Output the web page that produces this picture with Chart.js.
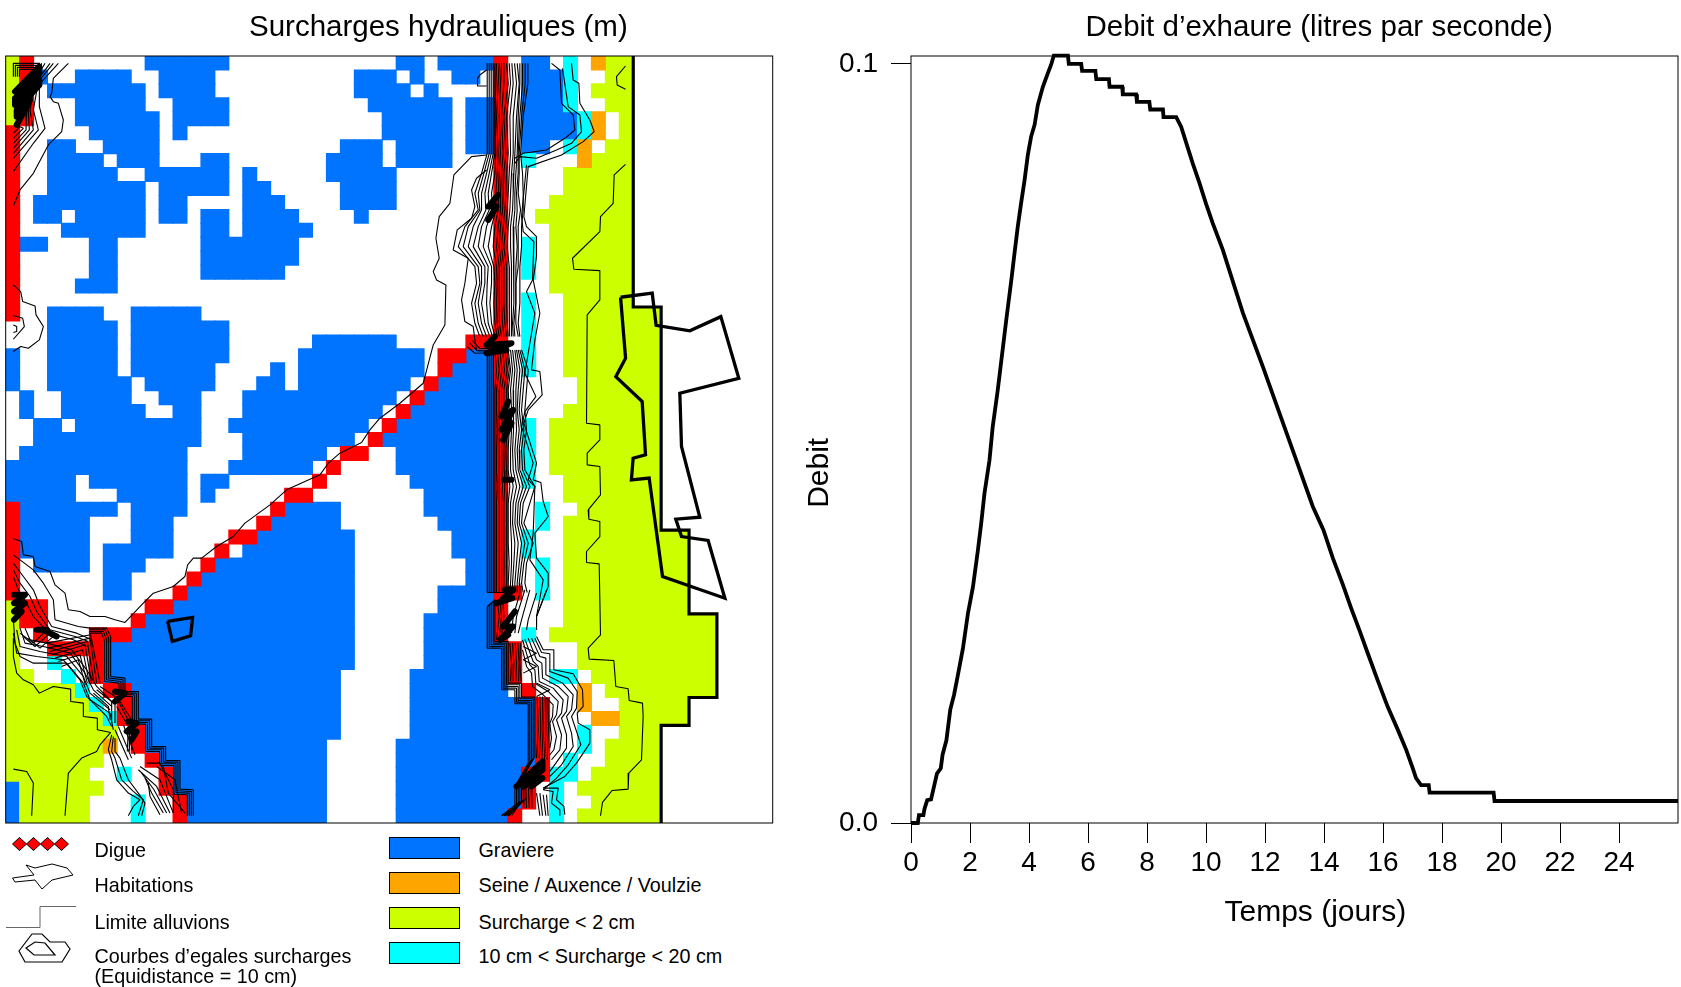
<!DOCTYPE html>
<html>
<head>
<meta charset="utf-8">
<title>Surcharges hydrauliques</title>
<script src="https://cdn.jsdelivr.net/npm/chart.js@4/dist/chart.umd.min.js"></script>
<style>
html, body { margin: 0; padding: 0; background: #fff; width: 1681px; height: 987px; overflow: hidden; }
canvas { position: absolute; top: 0; }
#mapChart { left: 0; }
#debitChart { left: 790px; }
#legend { position: absolute; left: 0; top: 0; }
.lbl { position: absolute; font: 19.75px "Liberation Sans", Arial, sans-serif; color: #000; line-height: 20px; transform: translateY(-50%); white-space: nowrap; }
.swatch { position: absolute; left: 389px; width: 69px; height: 20px; border: 1px solid #000; }
</style>
</head>
<body>
<canvas id="mapChart" width="877" height="830"></canvas>
<canvas id="debitChart" width="891" height="987"></canvas>
<div id="legend">
  <svg width="100" height="987" style="position:absolute;left:0;top:0">
    <g fill="#f00" stroke="#000">
      <polygon points="12.5,844 19.5,837.5 26.5,844 19.5,850.5"/>
      <polygon points="26.5,844 33.5,837.5 40.5,844 33.5,850.5"/>
      <polygon points="40.5,844 47.5,837.5 54.5,844 47.5,850.5"/>
      <polygon points="54.5,844 61.5,837.5 68.5,844 61.5,850.5"/>
    </g>
    <g fill="none" stroke="#000">
      <polygon points="26,865 35,868 52,864 67,868 73,875 52,880 42,889 35,880 15,882 12.5,878 34,875"/>
      <polyline points="6,927.5 40,927.5 40,906.5 76,906.5" stroke="#666"/>
      <polygon points="19,951 32,934 42,934 50,942 65,942 70,949 62,962 25,962" stroke-width="1.2"/>
      <polygon points="26,948 35,942 45,943 55,955 34,955" stroke-width="1.2"/>
    </g>
  </svg>
  <div class="lbl" style="left:94.5px;top:850px">Digue</div>
  <div class="lbl" style="left:94.5px;top:885px">Habitations</div>
  <div class="lbl" style="left:94.5px;top:921.5px">Limite alluvions</div>
  <div class="lbl" style="left:94.5px;top:956px">Courbes d’egales surcharges</div>
  <div class="lbl" style="left:94.5px;top:976px">(Equidistance = 10 cm)</div>
  <div class="swatch" style="top:837px;background:#0073ff"></div>
  <div class="swatch" style="top:872px;background:#ffa500"></div>
  <div class="swatch" style="top:907px;background:#ccff00"></div>
  <div class="swatch" style="top:942px;background:#00ffff"></div>
  <div class="lbl" style="left:478.5px;top:850px">Graviere</div>
  <div class="lbl" style="left:478.5px;top:885px">Seine / Auxence / Voulzie</div>
  <div class="lbl" style="left:478.5px;top:921.5px">Surcharge &lt; 2 cm</div>
  <div class="lbl" style="left:478.5px;top:956px">10 cm &lt; Surcharge &lt; 20 cm</div>
</div>
<script>
// Debit d'exhaure
const debitDays = [0, 0.23, 0.27, 0.42, 0.46, 0.55, 0.68, 0.75, 0.88, 1.01, 1.07, 1.2, 1.33, 1.46, 1.59, 1.76, 1.93, 2.1, 2.27, 2.38, 2.49, 2.66, 2.77, 2.94, 3.23, 3.4, 3.51, 3.62, 3.73, 3.85, 3.96, 4.07, 4.19, 4.3, 4.47, 4.64, 4.75, 4.84, 5.32, 5.35, 5.77, 5.8, 6.25, 6.28, 6.71, 6.73, 7.16, 7.18, 7.63, 7.66, 8.08, 8.11, 8.54, 8.56, 8.99, 9.16, 9.33, 9.55, 9.78, 10.0, 10.23, 10.57, 11.25, 11.93, 12.49, 13.06, 13.62, 13.98, 14.3, 14.64, 14.92, 15.2, 15.48, 15.82, 16.16, 16.5, 16.79, 17.01, 17.12, 17.29, 17.55, 17.58, 19.75, 19.78, 26];
const debitValues = [0, 0, 0.00105, 0.00105, 0.0019, 0.003, 0.0031, 0.0043, 0.0065, 0.0072, 0.009, 0.0109, 0.0149, 0.0169, 0.0195, 0.023, 0.0276, 0.0311, 0.036, 0.0395, 0.0434, 0.0478, 0.0522, 0.057, 0.0663, 0.0715, 0.0751, 0.0786, 0.0816, 0.0847, 0.088, 0.0904, 0.092, 0.0946, 0.097, 0.0988, 0.0999, 0.1011, 0.1011, 0.1, 0.1, 0.0991, 0.0991, 0.098, 0.098, 0.097, 0.097, 0.096, 0.096, 0.095, 0.095, 0.094, 0.094, 0.093, 0.093, 0.0917, 0.0896, 0.0869, 0.0843, 0.0816, 0.079, 0.0755, 0.0672, 0.0601, 0.054, 0.0478, 0.0417, 0.0386, 0.0349, 0.0314, 0.0283, 0.0254, 0.0224, 0.0188, 0.0153, 0.0123, 0.0096, 0.0072, 0.0059, 0.005, 0.005, 0.004, 0.004, 0.0029, 0.0029];
const xTicks = [0, 2, 4, 6, 8, 10, 12, 14, 16, 18, 20, 22, 24];
const yTicks = [0, 0.1];

// Mailles de la carte : [ligne debut, ligne fin, colonne debut, colonne fin]
const graviere = [
  [0,0,10,15],[0,0,28,29],[0,0,31,34],[0,0,37,38],
  [1,1,2,2],[1,1,5,8],[1,2,11,14],[1,2,25,27],[1,1,29,29],[1,1,32,33],[1,3,37,39],
  [2,2,3,9],[2,2,28,28],[2,2,30,30],
  [3,3,5,9],[3,5,12,12],[3,4,13,15],[3,3,26,31],[3,6,33,34],
  [4,4,5,10],[4,5,27,31],[4,5,37,40],[5,5,6,10],
  [6,6,3,4],[6,6,7,10],[6,6,24,26],[6,6,28,31],[6,6,37,38],
  [7,7,3,6],[7,7,8,10],[7,7,14,15],[7,7,23,26],[7,7,28,31],
  [8,8,3,7],[8,8,10,15],[8,8,17,17],[8,8,23,27],
  [9,9,3,9],[9,9,11,15],[9,9,17,18],[9,10,24,27],
  [10,10,2,9],[10,11,11,12],[10,10,17,19],
  [11,11,2,3],[11,11,5,9],[11,12,14,15],[11,11,17,20],[11,11,25,25],
  [12,12,4,9],[12,12,17,21],
  [13,13,1,2],[13,15,6,7],[13,14,14,20],[15,15,14,19],[16,16,5,7],
  [18,18,3,6],[18,18,9,13],[19,22,3,7],[19,21,9,15],[20,20,22,27],
  [21,23,0,0],[21,22,21,29],[21,21,33,34],[22,22,9,14],[22,23,19,19],[22,22,32,34],
  [23,23,3,8],[23,23,10,14],[23,23,18,18],[23,23,21,28],[23,23,31,34],
  [24,25,1,1],[24,24,4,8],[24,24,11,13],[24,24,17,27],[24,24,30,34],
  [25,25,4,9],[25,25,12,13],[25,25,17,26],[25,25,29,34],
  [26,26,2,3],[26,26,5,13],[26,26,16,25],[26,26,28,34],
  [27,27,2,13],[27,27,17,24],[27,27,27,34],
  [28,28,1,12],[28,28,17,22],[28,29,28,34],
  [29,29,0,12],[29,29,16,21],
  [30,31,0,4],[30,30,6,12],[30,30,14,15],[30,30,29,34],
  [31,31,8,12],[31,31,14,14],[31,32,30,34],
  [32,32,1,7],[32,32,9,12],[32,32,20,23],
  [33,34,1,5],[33,34,9,11],[33,33,19,23],[33,33,31,34],
  [34,34,18,24],[34,35,32,34],
  [35,35,1,5],[35,35,7,11],[35,35,17,24],
  [36,36,2,5],[36,36,7,9],[36,36,15,24],[36,37,33,34],
  [37,38,7,8],[37,37,14,24],[38,38,13,24],[38,39,31,34],
  [39,39,12,24],[40,40,10,24],[40,41,30,34],[41,41,9,24],
  [42,43,7,24],[42,43,30,35],[44,44,7,23],[44,45,29,35],[45,45,8,23],
  [46,47,9,23],[46,48,29,37],[48,48,10,23],[49,49,10,22],[49,50,28,37],
  [50,50,11,22],[51,52,12,22],[51,53,28,36],[52,54,0,0],[53,54,13,22],[54,54,28,35]
];
const digue = [
  [0,4,1,1],[5,18,0,0],[32,38,0,0],[39,40,1,1],[39,41,2,2],
  [20,20,33,34],[21,21,31,32],[22,22,31,31],[23,23,30,30],[24,24,29,29],[25,25,28,28],
  [26,26,27,27],[27,27,26,26],[28,28,24,25],[29,29,23,23],[30,30,22,22],[31,31,20,21],
  [32,32,19,19],[33,33,18,18],[34,34,16,17],[35,35,15,15],[36,36,14,14],[37,37,13,13],
  [38,38,12,12],[39,39,10,11],[40,40,9,9],[41,41,6,8],[42,42,3,6],[43,44,6,6],
  [45,45,7,8],[46,47,8,8],[48,49,9,9],[50,50,10,10],[51,52,11,11],[53,54,12,12],
  [0,41,35,35],[38,38,36,36],[42,44,36,36],[45,45,37,37],[46,51,38,38],[51,53,37,37],[54,54,36,36]
];
const surchargeFaible = [
  [0,1,0,0],[2,4,0,0],[0,1,43,44],[2,2,42,44],[3,3,43,44],[4,5,44,44],[6,6,43,44],[7,7,42,44],
  [8,9,40,44],[10,10,39,44],[11,11,38,44],[12,16,39,44],[17,17,40,44],[18,22,40,46],[23,24,41,46],
  [25,25,40,46],[26,29,39,46],[30,31,40,46],[32,32,41,46],[33,33,40,46],[34,39,40,48],[40,40,40,50],
  [41,41,39,50],[42,43,41,50],[44,44,42,50],[45,45,43,50],[46,47,44,48],[48,48,44,46],[49,50,43,46],
  [51,51,42,46],[52,52,41,46],[53,53,42,46],[54,54,41,46],
  [39,43,0,0],[44,44,0,1],[45,45,0,4],[46,46,0,5],[47,47,0,6],[48,48,0,7],[49,50,0,6],[51,51,0,5],[52,52,1,6],[53,54,1,5]
];
const surchargeMoyenne = [
  [0,3,40,40],[4,5,41,41],[6,6,40,40],[7,7,37,37],[13,15,37,37],[17,22,37,37],[26,30,37,37],[32,33,38,38],
  [34,35,37,37],[36,38,38,38],[41,41,37,37],[44,44,39,40],[48,49,41,41],[50,50,40,40],[51,51,39,40],[52,54,39,39],
  [43,43,3,3],[44,44,4,4],[45,45,5,5],[46,46,6,6],[47,47,7,7],[51,51,8,8],[53,54,9,9]
];
const rivieres = [
  [0,0,42,42],[4,5,42,42],[6,7,41,41],[45,46,41,41],[47,47,42,43],[49,49,7,7]
];

// Limite des alluvions et habitations, en mailles
const limiteAlluvions = [[45,0],[45,18],[47,18],[47,34],[49,34],[49,40],[51,40],[51,46],[49,46],[49,48],[47,48],[47,55]];
const habitationGrande = [[44.09,17.3],[46.36,17.01],[46.64,19.31],[49.06,19.71],[51.28,18.69],[52.57,23.11],[48.34,24.18],[48.46,28],[49.77,33.07],[48.05,33.21],[48.46,34.46],[50.37,34.74],[51.57,38.88],[47.1,37.32],[46.14,30.27],[44.87,30.39],[44.99,28.84],[45.88,28.6],[45.64,24.78],[43.75,22.99],[44.45,21.67],[44.09,17.3]];
const habitationPetite = [[11.61,40.55],[13.4,40.26],[13.26,41.58],[11.95,41.98],[11.61,40.55]];

// Courbes relevees en tiers de pixel, une liste par quart de carte
const courbesNO = [
  [205,40,165,80,160,85,155,130,150,140,160,155,175,160,190,210,185,245,145,285,100,370,60,420,40,468],
  [175,40,130,90,118,100,118,170,135,235,100,280,40,365],
  [160,40,115,95,100,180,115,240,40,325],
  [150,40,105,100,90,180,100,240,40,310],
  [135,40,100,100,85,185,88,240,40,295],
  [125,40,90,110,80,190,78,240,40,280],
  [40,265,70,235,60,230,40,250],
  [40,705,62,725,68,755,105,768,108,795,130,830,118,870,85,895,62,890,40,905],
  [40,797,68,805,73,830,40,868],
  [40,825,50,830,50,845,40,848],
  [40,80,40,40,120,40],[46,80,46,46,120,46],[52,80,52,52,120,52],[58,80,58,58,120,58]
];
const courbesNE = [
  [320,315,275,320,222,375,210,460,178,500,168,565,178,625,160,665,170,690,198,705,195,825,160,885,130,1000,60,1060,0,1105,-30,1140],
  [320,360,290,385,275,420,285,470,275,505,232,540,220,600,265,625,255,700,245,750,255,815,280,830,285,870,290,900],
  [320,60,300,75,293,85,293,108,320,108],
  [515,40,540,60,545,160,580,195,585,240,555,265,500,300,430,310,405,325],
  [548,55,565,170,600,195,605,245,575,280,530,300,470,325,420,320,405,340],
  [575,40,580,90,597,100,600,160,630,210,643,245,610,275,545,315,445,350,432,500,440,530,470,560,470,620,460,690,480,790,465,870,455,960,480,965,487,1035,445,1080,432,1120,470,1240,460,1290,483,1298,490,1355,505,1400,465,1450,470,1525,505,1570,505,1610,470,1700,470,1740],
  [440,345,425,500,430,545,462,575,458,690,440,725,465,790,450,880,435,970,468,1040,435,1085,425,1130,460,1240,445,1290,465,1310,460,1450,450,1530,490,1590,470,1700],
  [737,48,710,80,712,105,737,118],
  [737,343,703,375,700,460,662,500,660,545,578,625,582,658,660,662,660,750,622,795,620,1120,660,1125,660,1170,622,1210,622,1245,660,1250,662,1335,625,1380,627,1408,660,1415,660,1460,620,1505,620,1538,658,1542,662,1755,625,1795,628,1828,702,1832,708,1910,745,1917,748,1952,788,1960,790,2000,785,2130,747,2170,745,2218,697,2222,668,2258,662,2298],
  [262,890,285,910,380,908],[270,880,292,903,380,902],[278,872,300,896,380,895]
];
// Faisceau le long de la Seine, haut de la carte : une colonne par niveau
const faisceauHautNiveaux = [40,100,200,310,370,430,480,530,590,650,700,760,820,860];
const faisceauHaut = [
  [322,322,322,322,305,285,295,255,235,285,290,275,285,300],
  [328,328,328,328,312,295,300,265,250,295,300,285,295,310],
  [334,334,334,334,320,305,305,280,265,305,305,295,305,320],
  [340,340,340,340,328,315,318,295,280,315,315,305,315,330],
  [345,345,345,345,335,325,328,305,295,325,322,320,325,338],
  [350,348,345,348,345,335,338,320,310,335,335,330,335,345],
  [358,355,350,355,352,348,348,335,325,342,345,342,345,352],
  [365,362,358,362,358,356,355,345,340,350,352,350,352,358],
  [372,372,365,370,365,362,362,355,350,358,358,358,360,365],
  [380,385,372,378,372,370,368,362,358,365,365,365,368,372],
  [388,392,380,385,380,378,375,370,365,372,372,372,375,380],
  [396,400,390,392,388,385,382,378,372,380,380,380,382,385],
  [404,410,400,400,395,392,390,385,382,388,388,388,388,390],
  [412,418,410,405,402,400,398,392,392,395,395,395,394,395],
  [420,420,415,412,408,405,405,400,402,402,402,402,398,400],
  [428,428,420,415,415,410,412,408,412,408,408,408,402,405],
  [436,436,425,418,418,415,422,415,415,415,408,408,408,415],
  [444,444,430,422,428,430,430,425,425,420,420,420,415,420]
];
// Meme faisceau, de la digue jusqu'au decrochement
const faisceauBasNiveaux = [900,960,1020,1080,1140,1200,1260,1310,1360,1420,1480,1540,1600,1628];
const faisceauBas = [
  [322,322,322,322,322,322,322,322,322,322,322,322,322,322],
  [328,328,328,328,328,328,328,328,328,328,328,328,328,328],
  [334,334,334,334,334,334,334,334,334,334,334,334,334,334],
  [340,340,340,340,340,340,340,340,340,340,340,340,340,340],
  [345,350,345,345,345,345,345,345,345,345,345,345,345,345],
  [352,358,350,350,352,350,350,352,350,350,350,350,350,350],
  [360,366,358,358,360,358,358,360,358,358,358,358,358,358],
  [368,374,365,365,368,365,366,368,365,365,365,366,365,365],
  [375,382,372,372,375,372,373,375,372,372,372,373,372,372],
  [382,388,380,380,382,378,380,383,380,380,380,380,380,378],
  [385,392,385,388,388,385,385,390,385,385,385,388,385,385],
  [392,398,392,395,395,392,392,400,392,392,395,395,392,390],
  [398,405,400,400,402,398,400,410,400,398,405,402,398,398],
  [405,412,408,408,410,405,408,420,408,405,415,410,405,405],
  [410,420,415,412,418,412,415,430,415,412,425,418,412,412],
  [415,428,422,418,425,418,420,440,422,418,435,425,418,420],
  [420,435,430,425,432,425,428,450,430,425,445,432,425,430],
  [425,445,440,435,440,432,435,465,450,432,460,440,435,442]
];
const courbesSO = [
  [1110,0,1085,38,1020,70,985,100,960,135,860,180,810,225,735,280,700,320,650,350,605,385,580,385,563,405,555,440,520,470,460,490,435,515,375,578,345,570,315,560,270,560,240,545,205,540,195,490,165,465,150,425,105,410,100,380,70,375,65,335,40,327],
  [40,375,100,420,130,460,160,510,165,570,235,590,270,595],
  [40,400,70,440,100,480,120,530,155,590,230,610,265,625],
  [40,420,60,460,90,500,110,545,150,600,225,620,265,635],
  [40,440,55,480,80,520,100,560,145,610,220,630,260,650],
  [40,570,45,640,60,680,100,700,200,700,250,760,270,810,330,850,340,900],
  [40,610,50,670,110,680,190,690,240,750,260,800,320,860,335,890],
  [50,600,60,650,120,665,200,680,250,740,270,790,330,840],
  [60,595,75,640,130,650,210,670,255,730,280,780,335,830],
  [75,595,90,630,140,640,215,660,260,720,290,770,340,820],
  [40,625,40,680,50,730,70,750,100,765,118,790,160,770,212,778,212,815,250,820,250,860,292,865,292,900,332,908,300,945,290,965,245,985,205,1030,195,1158],
  [40,1018,80,1025,100,1060,95,1158],
  [335,915,325,960,335,990,350,1050,385,1090,420,1110,400,1130,385,1158],
  [340,920,335,965,345,985,365,1050,400,1085,430,1110,415,1158],
  [345,925,345,965,360,985,385,1050,415,1090,435,1120,425,1158],
  [268,595,320,595,332,620,332,740,375,745,375,785,415,785,415,868,455,868,455,950,497,950,497,992,540,992,540,1078,580,1080,580,1158],
  [268,600,315,600,326,625,326,745,369,750,369,790,409,790,409,873,449,873,449,955,491,955,491,997,534,997,534,1083,574,1085,574,1158],
  [268,605,310,605,320,630,320,750,363,755,363,795,403,795,403,878,443,878,443,960,485,960,485,1002,528,1002,528,1088,568,1090,568,1158],
  [268,610,305,610,314,635,314,755,357,760,357,800,397,800,397,883,437,883,437,965,479,965,479,1007,522,1007,522,1093,562,1095,562,1158],
  [145,655,270,625,290,760],[150,665,262,635,282,760],[155,675,255,645,275,760],[165,685,248,660,268,760],
  [140,640,272,615,300,760],[175,695,240,675,262,760],[185,710,235,690,256,765],
  [420,1010,480,1050,520,1150],[415,1020,470,1070,510,1150],[425,1030,462,1080,500,1150],[435,1045,455,1090,490,1150],[445,1060,450,1100,480,1155],
  [440,1000,480,1000,520,1080,520,1150],[470,1010,525,1050,545,1150],[490,1010,505,1090,555,1150],
  [350,800,395,870,395,960],[355,815,390,880,388,965],[350,830,385,890,382,965],
  [345,900,385,990],[355,890,395,985],[370,885,405,975],[60,610,100,640,140,600],[70,620,105,650,150,610],[85,625,120,655,165,615],
  [300,770,345,800,345,880],[290,780,335,815,335,880],[280,790,325,830,330,870]
];
const courbesSE = [
  [322,488,405,488],
  [322,530,345,510],
  [322,530,322,655,365,655,365,780,405,780,405,822,445,822,445,1000,405,1072,405,1135,365,1158],
  [328,525,328,650,370,650,370,775,410,775,410,817,450,817,450,995,410,1065,410,1130,372,1158],
  [334,520,334,645,375,645,375,770,415,770,415,812,455,812,455,990,415,1060,415,1125,380,1158],
  [340,515,340,640,380,640,380,765,420,765,420,807,460,807,460,985,420,1055,420,1120,388,1158],
  [345,510,345,635,385,635,385,760,425,760,425,802,465,802,465,980,425,1050,425,1115,395,1158],
  [352,510,358,560,350,630],[360,505,365,560,358,625],[368,500,372,560,365,615],
  [390,640,395,700,392,755],[398,640,402,700,400,755],[406,640,410,700,408,755],[414,640,418,700,416,755],[422,640,420,700,424,755],
  [472,800,475,900,470,985],[480,800,483,900,478,985],[488,800,490,900,486,990],[496,805,498,900,494,990],[504,805,506,900,502,990],
  [500,480,470,560,470,600],[470,490,445,570,440,600],[450,480,425,570,415,610],[435,480,410,560,405,610],[420,490,400,560,395,610],
  [470,620,490,660,522,660,522,720,580,732,608,780,610,830,592,850,595,880,630,900,630,940,590,1000,555,1040,490,1075,535,1075,530,1110,552,1130,555,1155],
  [465,625,485,668,510,672,510,725,565,745,592,785,590,835,575,860,590,905,603,945,565,1005,530,1045,490,1080,520,1085,515,1120,540,1140,540,1158],
  [455,625,480,680,498,685,498,735,548,760,580,795,575,840,560,860,575,910,580,950,545,1005,510,1040],
  [445,625,470,690,486,700,488,745,535,770,565,800,560,845,545,865,560,915,560,955,528,1000,510,1025],
  [435,628,460,695,475,710,478,755,520,775,550,810,545,850,530,870,545,915,540,960,515,990],
  [428,630,450,705,465,720,468,762,505,785,535,815,530,855,518,875,530,920,522,960,510,975],
  [428,660,440,710,455,730,458,770,490,795,520,825,518,860,510,880,515,925,510,955],
  [430,650,470,670,430,690,470,710,430,730],[470,760,510,780,470,800],
  [470,1090,480,1158],[480,1090,488,1158],[490,1095,498,1158],[500,1095,505,1158],
  [430,1075,432,1135],[438,1075,440,1135],[446,1075,448,1135],[454,1075,456,1135],
  [365,1158,420,1115],[375,1158,430,1110],[385,1158,440,1105]
];
// Zones ou les courbes se confondent en noir
const noirNO = [[45,125,118,50,118,70,45,145,45,165,118,90,118,105,50,180,50,200,90,150,50,225]];
const noirNE = [[355,435,325,470,350,470,325,510],[345,860,320,885,395,880,320,910,380,900],[385,1055,365,1100,400,1080,365,1140,395,1120,370,1170]];
const noirSO = [[42,495,75,495,42,520,75,520,42,545,65,545,42,570],[110,600,140,600],[130,600,170,620],[345,785,375,790,345,815],[385,875,410,880,380,905,410,905,395,930]];
const noirSE = [[375,480,400,480,370,505,398,505,350,520],[405,545,370,590,400,590,365,625],[360,630,385,615],[372,150,395,150],[410,1070,488,995,488,1020,430,1070,488,1045,455,1070]];

// Construction des series
const toCells = ranges => ranges.flatMap(([r0, r1, c0, c1]) => {
    const pts = [];
    for (let r = r0; r <= r1; r++) {
        for (let c = c0; c <= c1; c++) pts.push({ x: c + 0.5, y: r + 0.5 });
    }
    return pts;
});
const toMapPoints = (flat, dx, dy) => {
    const pts = [];
    for (let i = 0; i < flat.length; i += 2) {
        pts.push({ x: (flat[i] + dx - 17) / 41.85, y: (flat[i + 1] + dy - 18) / 41.85 });
    }
    return pts;
};
const cellSet = (ranges, color) => ({
    data: toCells(ranges), showLine: false, pointStyle: 'rect', pointRadius: 10.6,
    pointBackgroundColor: color, pointBorderWidth: 0
});
const lineSet = (pts, width, join = 'miter') => ({
    data: pts, showLine: true, pointRadius: 0, borderColor: '#000', borderWidth: width,
    tension: 0, borderJoinStyle: join, borderCapStyle: join === 'round' ? 'round' : 'butt'
});
const tableLines = (levels, table) => table.map(line => line.flatMap((x, i) => [x, levels[i]]));

const contourSets = [
    ...courbesNO.map(l => toMapPoints(l, 0, 0)),
    ...courbesNE.map(l => toMapPoints(l, 1140, 0)),
    ...tableLines(faisceauHautNiveaux, faisceauHaut).map(l => toMapPoints(l, 1140, 0)),
    ...tableLines(faisceauBasNiveaux, faisceauBas).map(l => toMapPoints(l, 1140, 0)),
    ...courbesSO.map(l => toMapPoints(l, 0, 1140)),
    ...courbesSE.map(l => toMapPoints(l, 1140, 1140))
].map(pts => lineSet(pts, 1.1, 'bevel'));
const blackSets = [
    ...noirNO.map(l => toMapPoints(l, 0, 0)),
    ...noirNE.map(l => toMapPoints(l, 1140, 0)),
    ...noirSO.map(l => toMapPoints(l, 0, 1140)),
    ...noirSE.map(l => toMapPoints(l, 1140, 1140))
].map(pts => lineSet(pts, 6, 'round'));

const toXY = pairs => pairs.map(([x, y]) => ({ x, y }));
const font = size => ({ family: '"Liberation Sans", Arial, sans-serif', size, weight: 'normal', lineHeight: 1.2 });
// decale un texte centre, comme sur l'original
const pad = n => '\u00a0'.repeat(n);

// Cadre autour de la zone de trace
const framePlugin = {
    id: 'frame',
    afterDatasetsDraw(chart) {
        const { ctx, chartArea: a } = chart;
        ctx.save();
        ctx.strokeStyle = '#000';
        ctx.lineWidth = 1;
        ctx.strokeRect(a.left, a.top, a.right - a.left, a.bottom - a.top);
        ctx.restore();
    }
};

new Chart(document.getElementById('mapChart'), {
    type: 'scatter',
    data: {
        // Chart.js peint le premier jeu en dernier : les traits d'abord, le fond a la fin
        datasets: [
            lineSet(toXY(habitationPetite), 3.3),
            lineSet(toXY(habitationGrande), 3.3),
            lineSet(toXY(limiteAlluvions), 3.2),
            ...blackSets,
            ...contourSets,
            cellSet(digue, '#ff0000'),
            cellSet(rivieres, '#ffa500'),
            cellSet(surchargeMoyenne, '#00ffff'),
            cellSet(surchargeFaible, '#ccff00'),
            cellSet(graviere, '#0073ff')
        ]
    },
    options: {
        responsive: false,
        animation: false,
        layout: { autoPadding: false, padding: { left: 5.7, right: 104.3, bottom: 7 } },
        plugins: {
            legend: { display: false },
            tooltip: { enabled: false },
            title: {
                display: true,
                text: pad(12) + 'Surcharges hydrauliques (m)',
                color: '#000',
                font: font(29.5),
                padding: { top: 10, bottom: 10.6 }
            }
        },
        scales: {
            x: { type: 'linear', display: false, min: 0, max: 55 },
            y: { type: 'linear', display: false, min: 0, max: 55, reverse: true }
        }
    },
    plugins: [framePlugin]
});

new Chart(document.getElementById('debitChart'), {
    type: 'line',
    data: {
        datasets: [{
            label: 'Debit',
            data: debitDays.map((d, i) => ({ x: d, y: debitValues[i] })),
            borderColor: '#000',
            borderWidth: 3.8,
            pointRadius: 0,
            tension: 0,
            borderJoinStyle: 'miter',
            clip: false
        }]
    },
    options: {
        responsive: false,
        animation: false,
        layout: { autoPadding: false, padding: { right: 3 } },
        plugins: {
            legend: { display: false },
            tooltip: { enabled: false },
            title: {
                display: true,
                fullSize: false,
                text: pad(6) + 'Debit d’exhaure (litres par seconde)',
                color: '#000',
                font: font(29.5),
                padding: { top: 10, bottom: 10.6 }
            }
        },
        scales: {
            x: {
                type: 'linear',
                min: 0,
                max: 26,
                afterBuildTicks: axis => { axis.ticks = xTicks.map(value => ({ value })); },
                afterFit: axis => { axis.height = 164; },
                grid: { drawOnChartArea: false, tickLength: 20, tickColor: '#000' },
                border: { display: false },
                ticks: { color: '#000', font: font(28), padding: 3, autoSkip: false, maxRotation: 0 },
                title: {
                    display: true,
                    text: pad(5) + 'Temps (jours)',
                    color: '#000',
                    font: font(30),
                    padding: { bottom: 56 }
                }
            },
            y: {
                type: 'linear',
                min: 0,
                max: 0.10105,
                afterBuildTicks: axis => { axis.ticks = yTicks.map(value => ({ value })); },
                afterFit: axis => { axis.width = 121; },
                grid: { drawOnChartArea: false, tickLength: 20, tickColor: '#000' },
                border: { display: false },
                ticks: { color: '#000', font: font(28), padding: 13, callback: v => v.toFixed(1) },
                title: {
                    display: true,
                    text: 'Debit' + pad(8),
                    color: '#000',
                    font: font(30),
                    padding: { top: 12 }
                }
            }
        }
    },
    plugins: [framePlugin]
});
</script>
</body>
</html>
